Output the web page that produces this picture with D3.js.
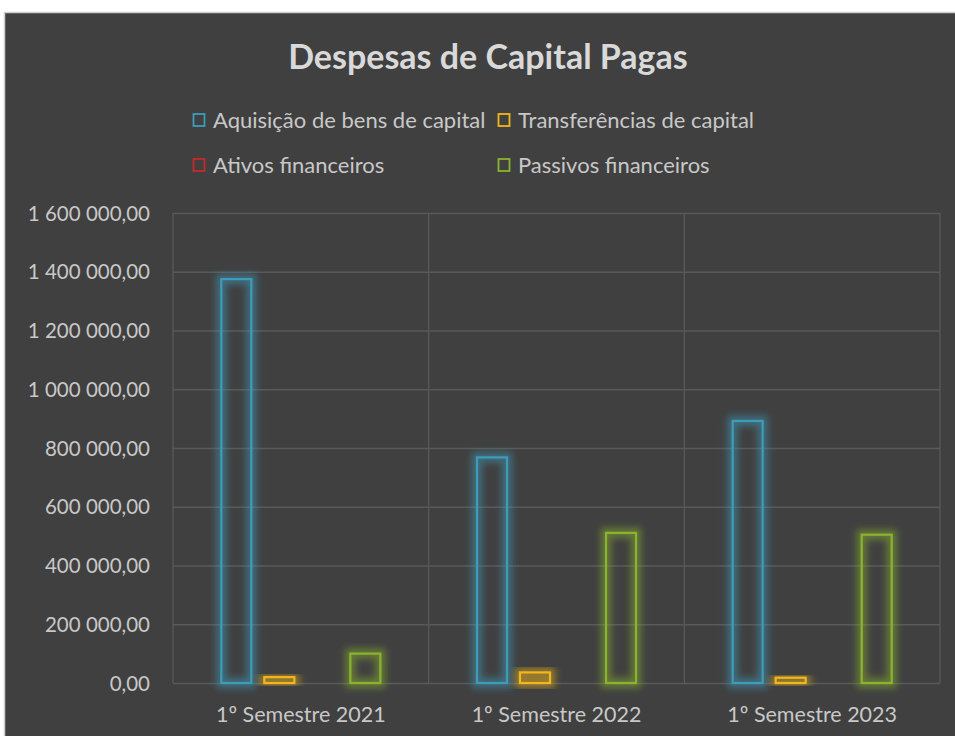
<!DOCTYPE html>
<html>
<head>
<meta charset="utf-8">
<script src="https://cdn.jsdelivr.net/npm/d3@7"></script>
<style>
  html, body { margin: 0; padding: 0; background: #ffffff; }
  svg { display: block; }
</style>
</head>
<body>
<div id="chart"></div>
<script>
// data
const categories = ["1º Semestre 2021", "1º Semestre 2022", "1º Semestre 2023"]
const series = ["Aquisição de bens de capital", "Transferências de capital", "Ativos financeiros", "Passivos financeiros"]
const colors = ["#3d9cbb", "#f2b71a", "#c62a2a", "#8ab42f"]
const aquisicao = [1375000, 768000, 892000]
const transferencias = [20000, 36000, 18000]
const ativos = [0, 0, 0]
const passivos = [100000, 511000, 505000]
const yTicks = [0, 200000, 400000, 600000, 800000, 1000000, 1200000, 1400000, 1600000]

const values = [aquisicao, transferencias, ativos, passivos]
const dataset = []
categories.forEach((c, ci) => {
  series.forEach((s, si) => {
    dataset.push({ cat: c, name: s, value: values[si][ci], color: colors[si] })
  })
})

const width = 955
const height = 736
const font = "Lato, 'Open Sans', sans-serif"
const margin = {top: 213, left: 173, right: 15, bottom: 53}

const svg = d3.select("#chart").append("svg")
  .attr("width", width)
  .attr("height", height)

// chart frame
svg.append("rect")
  .attr("x", 4.5).attr("y", 12.5)
  .attr("width", width).attr("height", height)
  .attr("fill", "#404040")
  .attr("stroke", "#d0d0d0")
  .attr("stroke-width", 1.5)

// glow filters
const defs = svg.append("defs")
colors.forEach((c, i) => {
  const f = defs.append("filter").attr("id", "glow" + i)
    .attr("x", "-50%").attr("y", "-50%").attr("width", "200%").attr("height", "200%")
  f.append("feMorphology").attr("in", "SourceGraphic").attr("operator", "dilate").attr("radius", 4).attr("result", "thick")
  f.append("feGaussianBlur").attr("in", "thick").attr("stdDeviation", 3.5).attr("result", "blur")
  f.append("feComponentTransfer").attr("in", "blur").attr("result", "soft")
    .append("feFuncA").attr("type", "linear").attr("slope", 0.5)
  const m = f.append("feMerge")
  m.append("feMergeNode").attr("in", "soft")
  m.append("feMergeNode").attr("in", "SourceGraphic")
})

const x = d3.scaleBand()
  .domain(categories)
  .range([margin.left, width - margin.right])
  .padding(0)

const xInner = d3.scaleBand()
  .domain(series)
  .range([0, x.bandwidth()])
  .paddingInner(0.256)
  .paddingOuter(1.1)

const y = d3.scaleLinear()
  .domain([0, 1600000])
  .range([height - margin.bottom, margin.top])

const fmt = v => {
  const s = d3.format(",.2f")(v)
  return s.replace(/,/g, " ").replace(".", ",")
}

// horizontal gridlines
svg.append("g")
  .attr("transform", `translate(${margin.left},0)`)
  .call(d3.axisLeft(y).tickValues(yTicks).tickSize(-(width - margin.right - margin.left)).tickFormat(""))
  .call(g => g.select(".domain").remove())
  .call(g => g.selectAll(".tick line").attr("stroke", "#595959").attr("stroke-width", 1.3))

// vertical gridlines at category edges
const edges = categories.map(c => x(c)).concat([x(categories[categories.length - 1]) + x.bandwidth()])
svg.append("g").selectAll("line").data(edges).enter().append("line")
  .attr("x1", d => d).attr("x2", d => d)
  .attr("y1", y(1600000)).attr("y2", y(0))
  .attr("stroke", "#595959").attr("stroke-width", 1.3)

// y labels
svg.append("g")
  .attr("transform", `translate(150,0)`)
  .call(d3.axisLeft(y).tickValues(yTicks).tickSize(0).tickFormat(fmt))
  .call(g => g.select(".domain").remove())
  .call(g => g.selectAll("text")
    .attr("x", 0).attr("dy", "0.35em")
    .attr("fill", "#c8c8c8")
    .style("font-family", font).style("font-size", "20.5px"))

// x labels
svg.append("g")
  .attr("transform", `translate(0,${y(0)})`)
  .call(d3.axisBottom(x).tickSize(0))
  .call(g => g.select(".domain").remove())
  .call(g => g.selectAll("text")
    .attr("y", 31).attr("dy", "0.35em")
    .attr("fill", "#c8c8c8")
    .style("font-family", font).style("font-size", "21.5px"))

// bars
svg.append("g")
  .selectAll("rect").data(dataset.filter(d => d.value > 0)).enter().append("rect")
    .attr("x", d => x(d.cat) + xInner(d.name) + 1)
    .attr("y", d => y(d.value))
    .attr("width", xInner.bandwidth() - 2)
    .attr("height", d => y(0) - y(d.value))
    .attr("fill", "none")
    .attr("stroke", d => d.color)
    .attr("stroke-width", 2.2)
    .attr("filter", d => "url(#glow" + colors.indexOf(d.color) + ")")

// title
svg.append("text")
  .attr("x", 488).attr("y", 57)
  .attr("text-anchor", "middle").attr("dy", "0.35em")
  .attr("fill", "#d9d9d9")
  .style("font-family", font).style("font-size", "34px").style("font-weight", "bold")
  .text("Despesas de Capital Pagas")

// legend
const legend = svg.append("g").selectAll("g").data(series).enter().append("g")
  .attr("transform", (d, i) => `translate(${193 + (i % 2) * 305},${120 + Math.floor(i / 2) * 45})`)
legend.append("rect")
  .attr("x", 0.5).attr("y", -6)
  .attr("width", 11).attr("height", 12)
  .attr("fill", "none")
  .attr("stroke", (d, i) => colors[i])
  .attr("stroke-width", 1.8)
legend.append("text")
  .attr("x", 20).attr("dy", "0.35em")
  .attr("fill", "#c8c8c8")
  .style("font-family", font).style("font-size", "22px")
  .text(d => d)
</script>
</body>
</html>
